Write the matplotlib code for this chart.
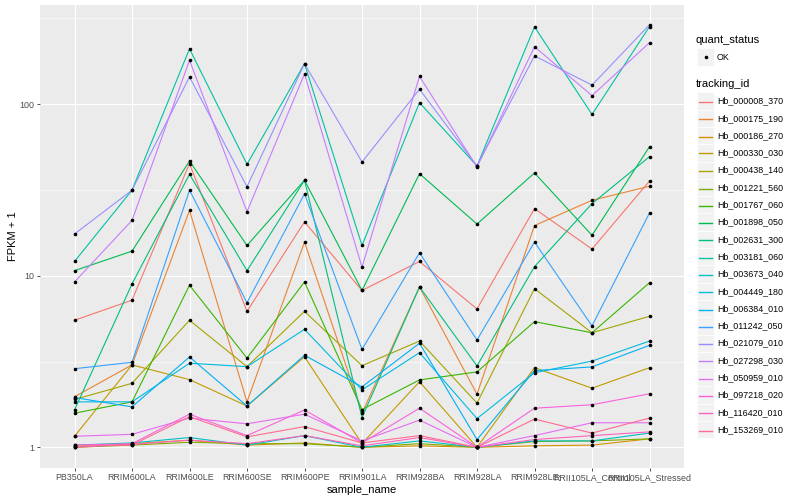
import matplotlib
matplotlib.use("Agg")
import matplotlib.pyplot as plt
from matplotlib.patches import Rectangle
from matplotlib.lines import Line2D
from matplotlib.ticker import FixedLocator, NullFormatter

plt.rcParams["font.family"] = ["Liberation Sans", "DejaVu Sans"]

samples = ["PB350LA", "RRIM600LA", "RRIM600LE", "RRIM600SE", "RRIM600PE", "RRIM901LA",
           "RRIM928BA", "RRIM928LA", "RRIM928LE", "RRII105LA_Control", "RRII105LA_Stressed"]

tracking_ids = ["Hb_000008_370", "Hb_000175_190", "Hb_000186_270", "Hb_000330_030",
                "Hb_000438_140", "Hb_001221_560", "Hb_001767_060", "Hb_001898_050",
                "Hb_002631_300", "Hb_003181_060", "Hb_003673_040", "Hb_004449_180",
                "Hb_006384_010", "Hb_011242_050", "Hb_021079_010", "Hb_027298_030",
                "Hb_050959_010", "Hb_097218_020", "Hb_116420_010", "Hb_153269_010"]

# ggplot hue palette, 20 levels
colors = ["#F8766D", "#EA8331", "#D89000", "#C09B00", "#A3A500", "#7CAE00", "#39B600",
          "#00BB4E", "#00BF7D", "#00C1A3", "#00BFC4", "#00BAE0", "#00B0F6", "#35A2FF",
          "#9590FF", "#C77CFF", "#E76BF3", "#FA62DB", "#FF62BC", "#FF6C90"]

# FPKM + 1, one value per sample
hb_000008_370 = [5.5, 7.2, 45, 6.2, 20.6, 8.2, 12.1, 6.4, 24.6, 14.3, 35.6]
hb_000175_190 = [1.97, 3.02, 24, 1.84, 15.7, 1.58, 8.6, 2.04, 19.6, 27.5, 33.2]
hb_000186_270 = [1.0, 1.05, 1.1, 1.03, 1.06, 1.0, 1.02, 1.0, 1.02, 1.03, 1.12]
hb_000330_030 = [1.16, 3.02, 2.48, 1.74, 3.37, 1.05, 2.41, 1.0, 2.91, 2.21, 2.91]
hb_000438_140 = [1.9, 2.36, 5.5, 2.95, 6.2, 2.99, 4.16, 1.81, 8.4, 4.65, 5.8]
hb_001221_560 = [1.0, 1.03, 1.07, 1.05, 1.05, 1.0, 1.05, 1.0, 1.08, 1.09, 1.12]
hb_001767_060 = [1.58, 1.84, 8.8, 3.31, 9.2, 1.66, 2.47, 2.75, 5.4, 4.65, 9.1]
hb_001898_050 = [10.7, 13.9, 46.6, 15.0, 36, 8.2, 39.3, 20, 39.7, 17.2, 56.5]
hb_002631_300 = [1.65, 8.95, 39, 10.7, 36, 1.49, 8.6, 2.98, 11.3, 26.3, 49.4]
hb_003181_060 = [12.1, 31.5, 210, 44.6, 172, 15, 102, 43.6, 282, 87, 283]
hb_003673_040 = [1.03, 1.06, 1.14, 1.03, 1.17, 1.0, 1.09, 1.0, 1.09, 1.09, 1.21]
hb_004449_180 = [1.84, 1.84, 3.09, 2.95, 4.87, 2.16, 3.56, 1.47, 2.72, 3.18, 4.16]
hb_006384_010 = [1.95, 1.72, 3.36, 1.74, 3.44, 2.25, 4.04, 1.11, 2.8, 2.94, 3.93]
hb_011242_050 = [2.87, 3.13, 31.5, 6.96, 30, 3.72, 13.6, 4.22, 15.7, 5.1, 23.2]
hb_021079_010 = [17.5, 31.5, 144, 33, 172, 46, 122, 43.6, 191, 129, 290]
hb_027298_030 = [9.2, 21, 180, 23.6, 150, 11.2, 145, 43, 216, 112, 228]
hb_050959_010 = [1.16, 1.19, 1.48, 1.37, 1.56, 1.09, 1.44, 1.0, 1.17, 1.39, 1.39]
hb_097218_020 = [1.03, 1.05, 1.56, 1.17, 1.65, 1.06, 1.69, 1.0, 1.69, 1.77, 2.05]
hb_116420_010 = [1.0, 1.04, 1.1, 1.05, 1.17, 1.02, 1.14, 1.0, 1.11, 1.17, 1.23]
hb_153269_010 = [1.02, 1.03, 1.51, 1.15, 1.32, 1.06, 1.17, 1.0, 1.46, 1.21, 1.48]

series = [hb_000008_370, hb_000175_190, hb_000186_270, hb_000330_030, hb_000438_140,
          hb_001221_560, hb_001767_060, hb_001898_050, hb_002631_300, hb_003181_060,
          hb_003673_040, hb_004449_180, hb_006384_010, hb_011242_050, hb_021079_010,
          hb_027298_030, hb_050959_010, hb_097218_020, hb_116420_010, hb_153269_010]

W, H = 800, 500
fig = plt.figure(figsize=(8, 5), dpi=100)
ax = fig.add_axes([40 / W, 1 - 468 / H, (684 - 40) / W, (468 - 5) / H])
ax.set_facecolor("#EBEBEB")
for s in ax.spines.values():
    s.set_visible(False)

x = list(range(len(samples)))
for vals, col in zip(series, colors):
    ax.plot(x, vals, color=col, lw=0.8, zorder=3)
for vals in series:
    ax.plot(x, vals, "o", color="black", ms=2.6, mew=0, zorder=4)

ax.set_yscale("log")
ax.set_ylim(10 ** -0.1206, 10 ** 2.5775)
ax.set_xlim(-0.6, len(samples) - 0.4)
ax.yaxis.set_major_locator(FixedLocator([1, 10, 100]))
ax.set_yticklabels(["1", "10", "100"])
ax.yaxis.set_minor_locator(FixedLocator([10 ** 0.5, 10 ** 1.5, 10 ** 2.5]))
ax.yaxis.set_minor_formatter(NullFormatter())
ax.set_xticks(x)
ax.set_xticklabels(samples)
ax.tick_params(axis="both", which="major", length=2.2, width=0.6, color="#333333",
               labelsize=6.4, labelcolor="#4D4D4D", pad=1.6)
ax.tick_params(axis="y", which="minor", length=0)
ax.grid(True, which="major", color="white", lw=0.85, zorder=0)
ax.grid(True, which="minor", axis="y", color="white", lw=0.4, zorder=0)
ax.set_axisbelow(True)
ax.set_xlabel("sample_name", fontsize=8, labelpad=2)
ax.set_ylabel("FPKM + 1", fontsize=8, labelpad=1)


def fx(px):
    return px / W


def fy(py):
    return 1 - py / H


key = 17.3
fig.text(fx(696), fy(40), "quant_status", fontsize=8, va="center", ha="left")
fig.patches.append(Rectangle((fx(697), fy(57 + key / 2)), key / W, key / H,
                             transform=fig.transFigure, facecolor="#F2F2F2", edgecolor="white", lw=0.5))
fig.lines.append(Line2D([fx(697 + key / 2)], [fy(57)], marker="o", color="black", ms=2.6, mew=0,
                        transform=fig.transFigure))
fig.text(fx(717), fy(57), "OK", fontsize=6.4, va="center", ha="left")

fig.text(fx(696), fy(84), "tracking_id", fontsize=8, va="center", ha="left")
for i, (name, col) in enumerate(zip(tracking_ids, colors)):
    cy = 101 + i * key
    fig.patches.append(Rectangle((fx(697), fy(cy + key / 2)), key / W, key / H,
                                 transform=fig.transFigure, facecolor="#F2F2F2", edgecolor="white", lw=0.5))
    ly = round(cy) + 0.5
    fig.lines.append(Line2D([fx(699), fx(712)], [fy(ly), fy(ly)], color=col, lw=1.0,
                            transform=fig.transFigure, zorder=5))
    fig.text(fx(717), fy(cy), name, fontsize=6.4, va="center", ha="left")

fig.savefig("out.png", dpi=100)
